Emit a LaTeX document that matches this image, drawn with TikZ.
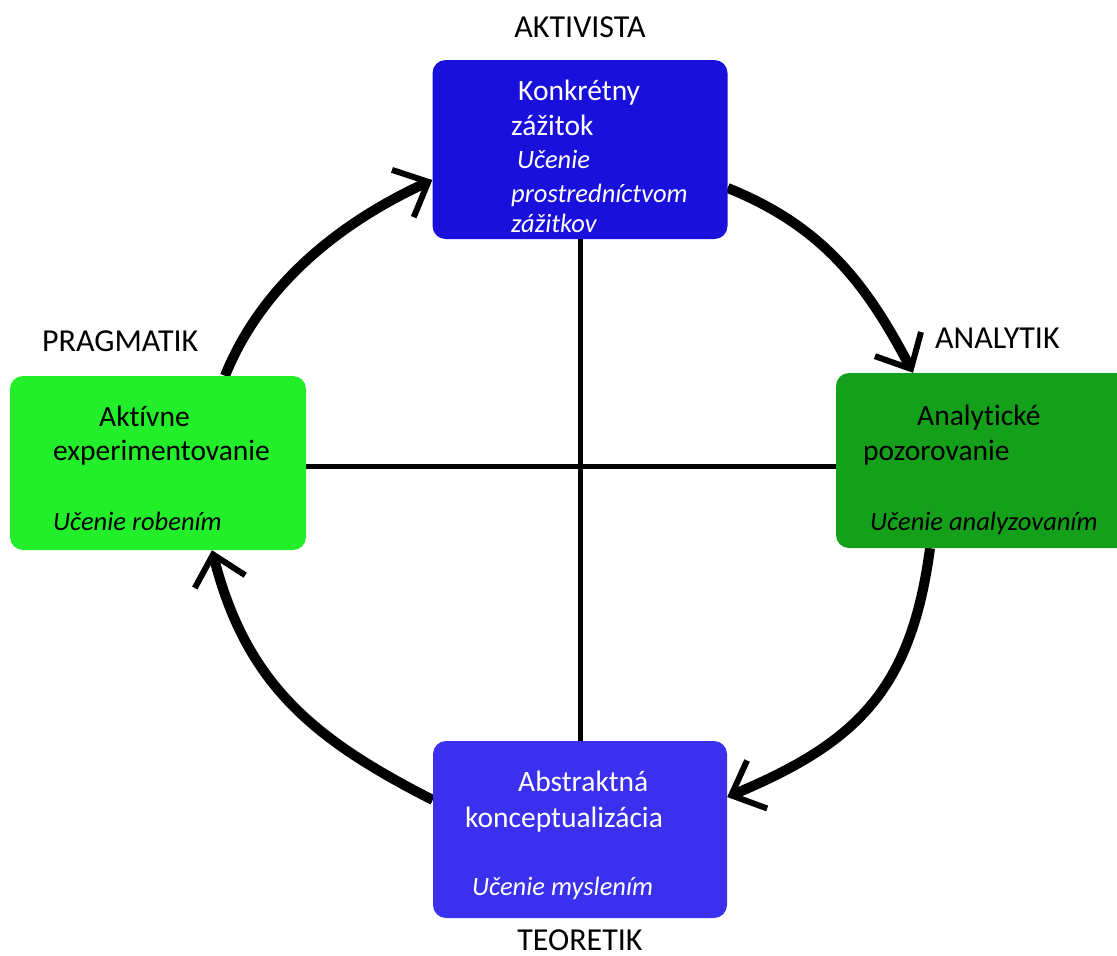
\documentclass[tikz,border=0pt]{standalone}
\usepackage{fontspec}
\setmainfont{Carlito}[Ligatures={NoCommon,NoContextual,NoRequired}]
\usetikzlibrary{arrows.meta}
\pgfdeclarelayer{bg}
\pgfsetlayers{bg,main}
\definecolor{topblue}{RGB}{26,16,220}
\definecolor{botblue}{RGB}{58,48,238}
\definecolor{litegreen}{RGB}{34,238,42}
\definecolor{darkgreen}{RGB}{20,160,26}
\newcommand{\nolig}{\kern0pt }
\begin{document}
\begin{tikzpicture}[x=1pt,y=-1pt,
  box/.style={rounded corners=13pt, inner sep=0pt, draw=none},
  txt/.style={anchor=base west, inner sep=0pt, font=\fontsize{29.5}{35}\selectfont},
  itxt/.style={anchor=base west, inner sep=0pt, font=\fontsize{26.5}{32}\selectfont\itshape},
  lbl/.style={anchor=base, inner sep=0pt, font=\fontsize{32}{38}\selectfont},
  lblw/.style={anchor=base west, inner sep=0pt, font=\fontsize{32}{38}\selectfont},
  arc/.style={line width=10pt, -{Straight Barb[length=28pt,width=52pt,line width=6pt]}},
  cross/.style={line width=5pt}]
\useasboundingbox (0,0) rectangle (1117,956);
\clip (0,0) rectangle (1117,956);
% boxes
\node[box, fill=topblue, minimum width=295pt, minimum height=179pt] (tbox) at (580,149.5) {};
\node[box, fill=darkgreen, minimum width=314pt, minimum height=175pt] (rbox) at (993,460.5) {};
\node[box, fill=litegreen, minimum width=296pt, minimum height=174pt] (lbox) at (158,463) {};
\node[box, fill=botblue, minimum width=294pt, minimum height=177pt] (bbox) at (580,829.5) {};
% box texts
\node[txt, text=white] (t1) at (518,100) {Konkrétny};
\node[txt, text=white] (t2) at (511,135) {zážitok};
\node[itxt, text=white] (t3) at (517,168) {Učenie};
\node[itxt, text=white] (t4) at (511,202) {prostredníctvom};
\node[itxt, text=white] (t5) at (511,232) {zážitkov};
\node[txt] (r1) at (917,425) {Analyt\nolig ické};
\node[txt] (r2) at (863,460) {pozorovanie};
\node[itxt] (r3) at (870,530) {Učenie analyzovaním};
\node[txt] (l1) at (99,426) {Akt\nolig ívne};
\node[txt] (l2) at (53,460) {experimentovanie};
\node[itxt] (l3) at (53,530) {Učenie robením};
\node[txt, text=white] (b1) at (518,791) {Abstraktná};
\node[txt, text=white] (b2) at (465,827) {konceptualizácia};
\node[itxt, text=white] (b3) at (472,895) {Učenie myslením};
% outer labels
\node[lbl] (akt) at (580,37) {AKTIVISTA};
\node[lblw] (ana) at (935,348) {ANALYTIK};
\node[lblw] (pra) at (42,351) {PRAGMATIK};
\node[lbl] (teo) at (580,950) {TEORETIK};
% connectors
\begin{pgfonlayer}{bg}
\draw[cross] (tbox.south) -- (bbox.north);
\draw[cross] (lbox.east |- 0,466) -- (rbox.west |- 0,466);
\draw[arc] (lbox.north -| 225,0) .. controls (262,284) and (341,222) .. (tbox.west |- 0,180);
\draw[arc] (tbox.east |- 0,188) .. controls (822,226) and (866,283) .. (rbox.north -| 913,0);
\draw[arc] (rbox.south -| 930,0) .. controls (911,691) and (856,743) .. (bbox.east |- 0,797);
\draw[arc] (bbox.west |- 0,800) .. controls (313,739) and (246,684) .. (lbox.south -| 212,0);
\end{pgfonlayer}
\end{tikzpicture}
\end{document}
